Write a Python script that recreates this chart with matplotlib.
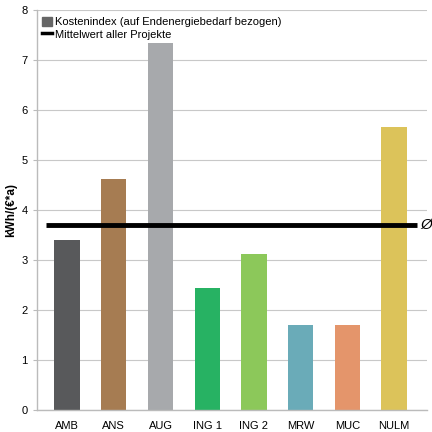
import numpy as np
import matplotlib.pyplot as plt
from matplotlib.patches import Patch
from matplotlib.lines import Line2D

plt.rcParams['font.family'] = ['Liberation Sans', 'DejaVu Sans']

# data
projects = ['AMB', 'ANS', 'AUG', 'ING 1', 'ING 2', 'MRW', 'MUC', 'NULM']
kostenindex = [3.4, 4.62, 7.34, 2.44, 3.12, 1.7, 1.7, 5.66]
mittelwert = 3.7
colors = ['#58595b', '#a67c52', '#a7a9ac', '#27b263', '#8cc85a', '#6aabb8', '#e4956b', '#dcc35a']

fig = plt.figure(figsize=(4.32, 4.32), dpi=100)
ax = fig.add_axes([0.086, 0.051, 0.902, 0.926])

x = np.arange(len(projects))
ax.bar(x, kostenindex, width=0.54, color=colors, zorder=2)
ax.hlines(mittelwert, -0.45, 7.5, color='black', lw=3.5, zorder=3)
ax.text(7.57, mittelwert, 'Ø', fontsize=11, fontstyle='italic', va='center', ha='left', zorder=4)

ax.set_xlim(-0.64, 7.7)
ax.set_ylim(0, 8)
ax.set_yticks(range(0, 9))
ax.set_xticks(x)
ax.set_xticklabels(projects, fontsize=8)
ax.tick_params(axis='y', labelsize=8, length=3, color='#bbbbbb', pad=4)
ax.tick_params(axis='x', length=0, pad=8)
ax.set_ylabel('kWh/(€*a)', fontsize=8.5, fontweight='bold', labelpad=3)

ax.grid(axis='y', color='#c8c8c8', lw=0.8, zorder=0)
for s in ['top', 'right']:
    ax.spines[s].set_visible(False)
for s in ['left', 'bottom']:
    ax.spines[s].set_color('#bbbbbb')
    ax.spines[s].set_linewidth(1.0)

handles = [Patch(color='#666666', label='Kostenindex (auf Endenergiebedarf bezogen)'),
           Line2D([0], [0], color='black', lw=2.5, label='Mittelwert aller Projekte')]
leg = ax.legend(handles=handles, loc='upper left', bbox_to_anchor=(-0.005, 1.0), frameon=False,
                fontsize=8, handlelength=0.9, handleheight=0.9, handletextpad=0.3,
                labelspacing=0.2, borderaxespad=0.2)

fig.savefig('out.png', dpi=100)
